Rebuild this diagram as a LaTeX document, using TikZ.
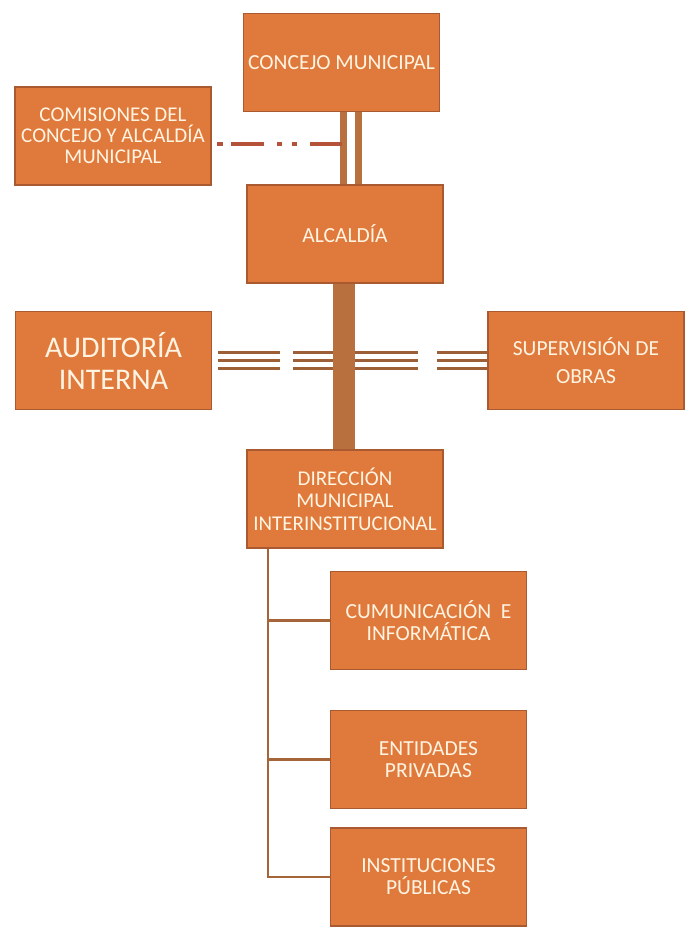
\documentclass[tikz,border=0pt]{standalone}
\usepackage{fontspec}
\setmainfont{Carlito}
\usepackage{tikz}
\usetikzlibrary{positioning}
\definecolor{naranja}{HTML}{E07A3C}
\definecolor{borde}{HTML}{A95A30}
\definecolor{cafe}{HTML}{B8703F}
\definecolor{rojizo}{HTML}{B4533A}
\definecolor{crema}{HTML}{FFF4E2}

\begin{document}
\begin{tikzpicture}[
x=1pt, y=-1pt,
unidad/.style={rectangle, fill=naranja, draw=borde, line width=1.5pt,
  minimum width=196pt, minimum height=98pt, inner sep=2pt,
  text=crema, align=center, font=\fontsize{21.5}{22}\selectfont},
barra/.style={draw=cafe, line width=7pt},
tronco/.style={draw=cafe, line width=22pt},
triple/.style={draw=cafe!85!black, line width=3.5pt},
puntos/.style={draw=rojizo, line width=3.5pt},
rama/.style={draw=cafe!90!black, line width=2.2pt}
]
    \useasboundingbox (0,0) rectangle (686,936);

    % Cajas
    \node[unidad] (concejo) at (341.5,62.5) {CONCEJO MUNICIPAL};
    \node[unidad, font=\fontsize{21}{21}\selectfont] (comisiones) at (113,136)
        {COMISIONES DEL\\CONCEJO Y ALCALDÍA\\MUNICIPAL};
    \node[unidad] (alcaldia) at (345,234) {ALCALDÍA};
    \node[unidad, font=\fontsize{30}{32}\selectfont] (auditoria) at (113.5,360.5)
        {AUDITORÍA\\INTERNA};
    \node[unidad, font=\fontsize{21.5}{28}\selectfont] (supervision) at (586,360.5)
        {SUPERVISIÓN DE\\OBRAS};
    \node[unidad, font=\fontsize{21}{22.5}\selectfont] (direccion) at (345,499)
        {DIRECCIÓN\\MUNICIPAL\\INTERINSTITUCIONAL};
    \node[unidad] (cumunicacion) at (428.5,620.5)
        {CUMUNICACIÓN\ \ E\\INFORMÁTICA};
    \node[unidad] (entidades) at (428.5,759.5)
        {ENTIDADES\\PRIVADAS};
    \node[unidad] (instituciones) at (428.5,877)
        {INSTITUCIONES\\PÚBLICAS};

    % Concejo - Alcaldia
    \coordinate (b1) at ([xshift=2pt]concejo.south);
    \coordinate (b2) at ([xshift=17pt]concejo.south);
    \draw[barra] (b1) -- (b1 |- alcaldia.north);
    \draw[barra] (b2) -- (b2 |- alcaldia.north);

    % Comisiones
    \coordinate (c1) at ([yshift=-8pt]comisiones.east -| b1);
    \draw[puntos, dash pattern=on 32pt off 13pt on 5pt off 10pt on 5pt off 13pt on 33pt off 8pt on 6pt off 20pt,
      shorten >=2pt, shorten <=2pt] (c1) -- ([yshift=-8pt]comisiones.east);

    % Auditoria - Supervision
    \foreach \dy in {-8,0,8}
      \draw[triple, dash pattern=on 62pt off 13pt on 125pt off 19pt on 51pt, shorten <=6pt]
        ([yshift=\dy pt]auditoria.east) -- ([yshift=\dy pt]supervision.west);

    % Alcaldia - Direccion
    \draw[tronco] ([xshift=-1pt]alcaldia.south) -- ([xshift=-1pt]direccion.north);

    % Direccion - dependencias
    \coordinate (t) at ([xshift=-77pt]direccion.south);
    \draw[rama] (t) |- (instituciones.west);
    \draw[rama] (t |- cumunicacion.west) -- (cumunicacion.west);
    \draw[rama] (t |- entidades.west) -- (entidades.west);
\end{tikzpicture}
\end{document}
